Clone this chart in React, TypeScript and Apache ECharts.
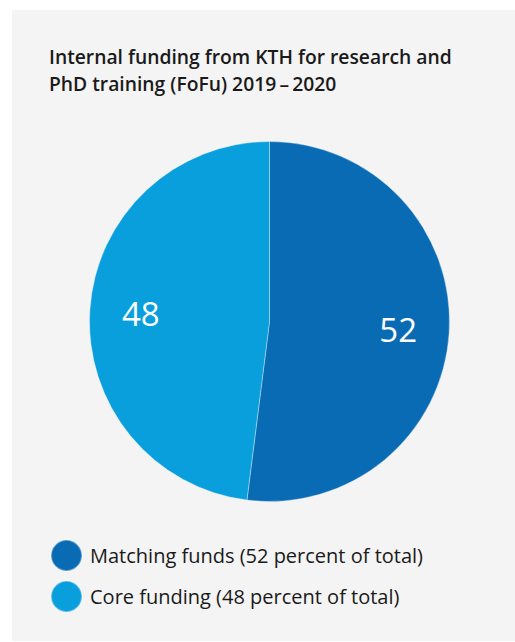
import React, { useEffect, useRef } from "react";
import * as echarts from "echarts";

const titleLines = ["Internal funding from KTH for research and", "PhD training (FoFu) 2019\u2009\u2013\u20092020"];
const categories = ["Matching funds", "Core funding"];
const values = [52, 48];
const colors = ["#0a6bb5", "#089fdc"];

export default function App() {
  const ref = useRef<HTMLDivElement>(null);
  useEffect(() => {
    if (!ref.current) return;
    const chart = echarts.init(ref.current, null, { renderer: "svg" });
    const data = categories.map((name, i) => ({ name, value: values[i], itemStyle: { color: colors[i] } }));
    const font = "'Open Sans', 'Noto Sans', sans-serif";
    chart.setOption({
      animation: false,
      backgroundColor: "#ffffff",
      graphic: [
        { type: "rect", z: -10, silent: true, shape: { x: 12, y: 10, width: 503, height: 631 }, style: { fill: "#f4f4f4" } },
      ],
      title: {
        text: titleLines.join("\n"),
        left: 44,
        top: 38,
        textStyle: { fontFamily: font, fontSize: 19.3, fontWeight: 600, color: "#1a1a1a", lineHeight: 27 },
      },
      legend: {
        orient: "vertical",
        left: 45,
        top: 534,
        icon: "circle",
        itemWidth: 31,
        itemHeight: 31,
        itemGap: 8,
        data: categories,
        formatter: (name: string) => {
          const i = categories.indexOf(name);
          return `${name} (${values[i]} percent of total)`;
        },
        textStyle: { fontFamily: font, fontSize: 20, color: "#1a1a1a", padding: [0, 0, 0, 3] },
      },
      series: [
        {
          type: "pie",
          center: [269.5, 321.5],
          radius: [0, 180],
          startAngle: 90,
          clockwise: true,
          label: { show: false },
          labelLine: { show: false },
          itemStyle: { borderColor: "rgba(255,255,255,0.35)", borderWidth: 1 },
          emphasis: { disabled: true },
          data,
        },
        {
          type: "pie",
          center: [269.5, 321.5],
          radius: [72, 180],
          startAngle: 90,
          clockwise: true,
          silent: true,
          legendHoverLink: false,
          itemStyle: { color: "transparent" },
          label: {
            show: true,
            position: "inside",
            formatter: "{c}",
            color: "#ffffff",
            fontFamily: font,
            fontSize: 33,
            fontWeight: 400,
          },
          labelLine: { show: false },
          emphasis: { disabled: true },
          data: categories.map((name, i) => ({ name: name + " ", value: values[i] })),
        },
      ],
    });
    return () => chart.dispose();
  }, []);
  return <div ref={ref} style={{ position: "fixed", left: 0, top: 0, width: 515, height: 642 }} />;
}
